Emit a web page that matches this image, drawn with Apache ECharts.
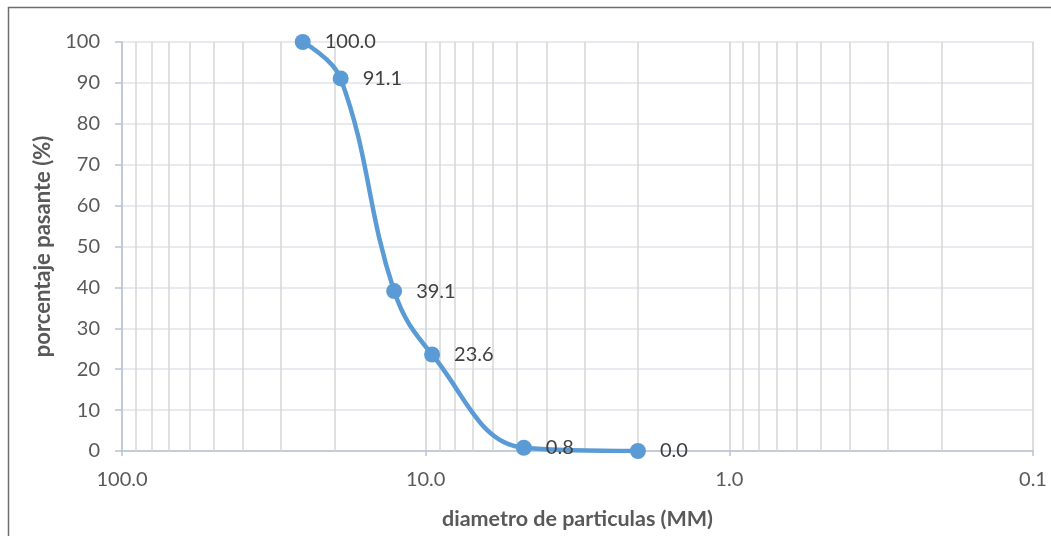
<!DOCTYPE html>
<html><head><meta charset="utf-8">
<script src="https://cdn.jsdelivr.net/npm/echarts@6/dist/echarts.min.js"></script>
<style>html,body{margin:0;padding:0;background:#fff}#c{width:1051px;height:536px}</style>
</head><body><div id="c"></div>
<script>
// data
const diameters = [25.4, 19.05, 12.7, 9.525, 4.75, 2.0];
const passing = [100.0, 91.1, 39.1, 23.6, 0.8, 0.0];
const xMinorGrid = [90,80,70,60,50,40,30,20, 9,8,7,6,5,4,3,2, 0.9,0.8,0.7,0.6,0.5,0.4,0.3,0.2];
const yTitle = 'porcentaje pasante (%)';
const xTitle = 'diametro de particulas (MM)';

const font = 'Lato, "Open Sans", sans-serif';
const txt = '#595959';
const chart = echarts.init(document.getElementById('c'), null, {renderer:'canvas'});
chart.setOption({
  animation: false,
  backgroundColor: '#fff',
  grid: {left: 122, right: 18, top: 42, bottom: 85},
  graphic: [{type:'rect', shape:{x:8.5, y:7.5, width:1200, height:700}, style:{fill:'none', stroke:'#6e6e6e', lineWidth:1.5}, silent:true, z:-10}],
  xAxis: {
    type: 'log', logBase: 10, min: 0.1, max: 100, inverse: true,
    name: xTitle, nameLocation: 'middle', nameGap: 57,
    nameTextStyle: {fontFamily: font, fontWeight: 'bold', fontSize: 21.5, color: txt},
    axisLine: {show: true, lineStyle: {color: '#b7c3d5', width: 1.5}},
    axisTick: {show: true, length: 5, lineStyle: {color: '#b7c3d5', width: 1.5}},
    axisLabel: {fontFamily: font, fontSize: 20, color: txt, margin: 19, formatter: v => Number(v).toFixed(1)},
    splitLine: {show: true, lineStyle: {color: '#d2d2d2', width: 1.5}}
  },
  yAxis: {
    type: 'value', min: 0, max: 100, interval: 10,
    name: yTitle, nameLocation: 'middle', nameGap: 64,
    nameTextStyle: {fontFamily: font, fontWeight: 'bold', fontSize: 22, color: txt},
    axisLine: {show: true, lineStyle: {color: '#b7c3d5', width: 1.5}},
    axisTick: {show: true, length: 7, lineStyle: {color: '#b7c3d5', width: 1.5}},
    axisLabel: {fontFamily: font, fontSize: 20, color: txt, margin: 22},
    splitLine: {show: true, lineStyle: {color: '#dfe3ea', width: 1.5}}
  },
  series: [
    {
      type: 'line', data: [], z: 1, silent: true,
      markLine: {
        silent: true, symbol: 'none', label: {show: false},
        lineStyle: {type: 'solid', color: '#d6d6d6', width: 1.5},
        data: xMinorGrid.map(v => ({xAxis: v}))
      }
    },
    {
      type: 'line', z: 5,
      data: diameters.map((d, i) => [d, passing[i]]),
      smooth: 0.4,
      symbol: 'circle', symbolSize: 16,
      itemStyle: {color: '#5b9bd5'},
      lineStyle: {color: '#5b9bd5', width: 4.5},
      label: {show: true, position: 'right', distance: 14, fontFamily: font, fontSize: 20, color: '#404040',
        formatter: p => p.value[1].toFixed(1)}
    }
  ]
});
</script></body></html>
